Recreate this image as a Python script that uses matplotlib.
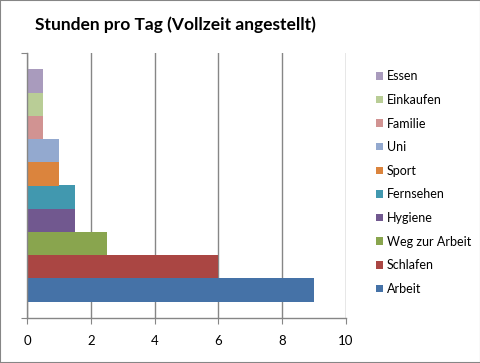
import matplotlib
matplotlib.use('Agg')
import matplotlib.pyplot as plt
from matplotlib.patches import Rectangle, Patch

# Daten
kategorien = ['Arbeit', 'Schlafen', 'Weg zur Arbeit', 'Hygiene', 'Fernsehen',
              'Sport', 'Uni', 'Familie', 'Einkaufen', 'Essen']
stunden = [9, 6, 2.5, 1.5, 1.5, 1, 1, 0.5, 0.5, 0.5]
farben = ['#4572A7', '#AA4643', '#89A54E', '#71588F', '#4198AF',
          '#DB843D', '#93A9CF', '#D19392', '#B9CD96', '#A99BBD']

plt.rcParams['font.family'] = ['Lato', 'DejaVu Sans']
grau = '#868686'

fig = plt.figure(figsize=(4.81, 3.63), dpi=100)
ax = fig.add_axes([27 / 481, 45 / 363, 319 / 481, 265 / 363])

pos = list(range(len(kategorien)))
ax.barh(pos, stunden, height=1.0, color=farben, zorder=2)

ax.set_xlim(0, 10)
ax.set_ylim(-1.21, len(kategorien) - 1 + 1.21)
ax.set_xticks([0, 2, 4, 6, 8, 10])
ax.set_yticks([-1.21, len(kategorien) - 1 + 1.21])
ax.set_yticklabels([])
ax.tick_params(axis='x', length=4, color=grau, pad=8, labelsize=9.5)
ax.tick_params(axis='y', length=4, color=grau)
ax.grid(axis='x', color=grau, linewidth=1, zorder=0)

for s in ['top', 'right']:
    ax.spines[s].set_visible(False)
for s in ['left', 'bottom']:
    ax.spines[s].set_color(grau)
    ax.spines[s].set_linewidth(1)
ax.spines['left'].set_zorder(3)

fig.text(35 / 481, 1 - 25 / 363, 'Stunden pro Tag (Vollzeit angestellt)',
         fontsize=12.5, fontweight='bold', va='center', ha='left')

handles = [Patch(facecolor=f, edgecolor='none') for f in farben][::-1]
fig.legend(handles, kategorien[::-1], loc='upper left',
           bbox_to_anchor=(365 / 481, 1 - 59 / 363), frameon=False,
           fontsize=9, handlelength=0.55, handleheight=0.55,
           handletextpad=0.3, labelspacing=0.93)

fig.patches.append(Rectangle((0, 0), 1, 1, transform=fig.transFigure,
                             fill=False, edgecolor=grau, linewidth=1.5))

fig.savefig('out.png', dpi=100)
